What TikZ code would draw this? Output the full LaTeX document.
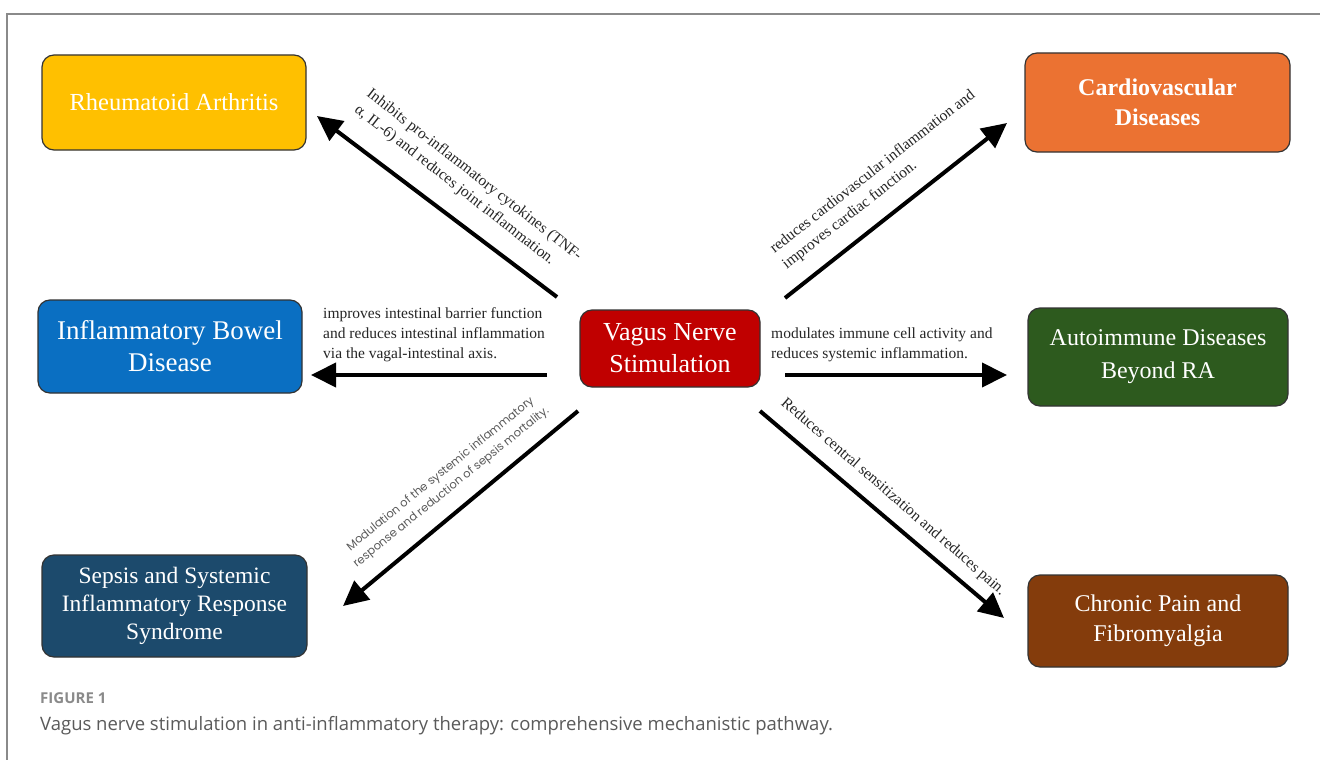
\documentclass[tikz,border=0pt]{standalone}
\usepackage{fontspec}
\setmainfont{Liberation Serif}
\newfontfamily\popfont{Poppins}
\newfontfamily\capfont{Open Sans}
\usetikzlibrary{arrows.meta}
\definecolor{raC}{HTML}{FFC000}
\definecolor{cvC}{HTML}{EB7232}
\definecolor{ibdC}{HTML}{0A6FC2}
\definecolor{vnsC}{HTML}{C00000}
\definecolor{aiC}{HTML}{2D5A1E}
\definecolor{sepC}{HTML}{1C4A6C}
\definecolor{cpC}{HTML}{843C0C}
\definecolor{frameC}{HTML}{8A8A8A}
\definecolor{capC}{HTML}{5A5A5A}
\begin{document}
\begin{tikzpicture}[x=1pt,y=-1pt,
  box/.style={draw=black!80, line width=1.2pt, rounded corners=12pt, text=white, align=center, inner sep=0pt},
  conn/.style={line width=4pt, -{Triangle[length=25pt,width=24pt]}},
  lbl/.style={font=\fontsize{15.5}{20}\selectfont, text=black!85, align=left, inner sep=0pt},
  slbl/.style={font=\popfont\fontsize{11.5}{17}\selectfont, text=capC, align=center, inner sep=0pt}
]
\useasboundingbox (0,0) rectangle (1320,760);
\fill[white] (0,0) rectangle (1320,760);
% frame
\draw[frameC, line width=2pt] (7,760) -- (7,14) -- (1320,14);

% boxes
\node[box, fill=raC, minimum width=264pt, minimum height=95pt, font=\fontsize{24.5}{30}\selectfont] (ra) at (174,102.5) {Rheumatoid Arthritis};
\node[box, fill=cvC, minimum width=265pt, minimum height=99pt, font=\bfseries\fontsize{24}{30}\selectfont] (cv) at (1157.5,102.5) {Cardiovascular\\Diseases};
\node[box, fill=ibdC, minimum width=264pt, minimum height=93pt, font=\fontsize{27}{32}\selectfont] (ibd) at (170,346.5) {Inflammatory Bowel\\Disease};
\node[box, fill=vnsC, minimum width=180pt, minimum height=77pt, font=\fontsize{26}{32}\selectfont] (vns) at (670,348.5) {Vagus Nerve\\Stimulation};
\node[box, fill=aiC, minimum width=260pt, minimum height=98pt, font=\fontsize{24}{33}\selectfont] (ai) at (1158,357) {Autoimmune Diseases\\Beyond RA};
\node[box, fill=sepC, minimum width=265pt, minimum height=102pt, font=\fontsize{23.5}{28}\selectfont] (sep) at (174.5,606) {Sepsis and Systemic\\Inflammatory Response\\Syndrome};
\node[box, fill=cpC, minimum width=260pt, minimum height=92pt, font=\fontsize{24}{30}\selectfont] (cp) at (1158,621) {Chronic Pain and\\Fibromyalgia};

% arrow ends
\coordinate (raT) at (557,297);  \coordinate (raH) at (317,116);
\coordinate (cvT) at (785,298);  \coordinate (cvH) at (1007,123);
\coordinate (ibdT) at (547,375); \coordinate (ibdH) at (311,375);
\coordinate (aiT) at (785,375);  \coordinate (aiH) at (1007,375);
\coordinate (sepT) at (578,411); \coordinate (sepH) at (343,606);
\coordinate (cpT) at (760,411);  \coordinate (cpH) at (1004,618);

\draw[conn] (raT) -- (raH);
\draw[conn] (cvT) -- (cvH);
\draw[conn] (ibdT) -- (ibdH);
\draw[conn] (aiT) -- (aiH);
\draw[conn] (sepT) -- (sepH);
\draw[conn] (cpT) -- (cpH);

% labels
\node[lbl, rotate=-38] (raL) at (468,183) {Inhibits pro-inflammatory cytokines (TNF-\\α, IL-6) and reduces joint inflammation.};
\node[lbl, rotate=38] (cvL) at (879,180) {reduces cardiovascular inflammation and\\improves cardiac function.};
\node[lbl, anchor=west] (ibdL) at (323,335) {improves intestinal barrier function\\and reduces intestinal inflammation\\via the vagal-intestinal axis.};
\node[lbl, anchor=west] (aiL) at (771,344.5) {modulates immune cell activity and\\reduces systemic inflammation.};
\node[slbl, rotate=39] (sepL) at (446,481) {Modulation of the systemic inflammatory\\response and reduction of sepsis mortality.};
\node[lbl, rotate=-41] (cpL) at (893,497) {Reduces central sensitization and reduces pain.};

% caption
\node[anchor=base west, inner sep=0pt, font=\capfont\bfseries\fontsize{15}{17}\selectfont, text=frameC] (figno) at (40,703) {FIGURE 1};
\node[anchor=base west, inner sep=0pt, font=\capfont\fontsize{18.5}{21}\selectfont, text=capC] (cap) at (40,730) {Vagus nerve stimulation in anti-inflammatory therapy: comprehensive mechanistic pathway.};
\end{tikzpicture}
\end{document}
